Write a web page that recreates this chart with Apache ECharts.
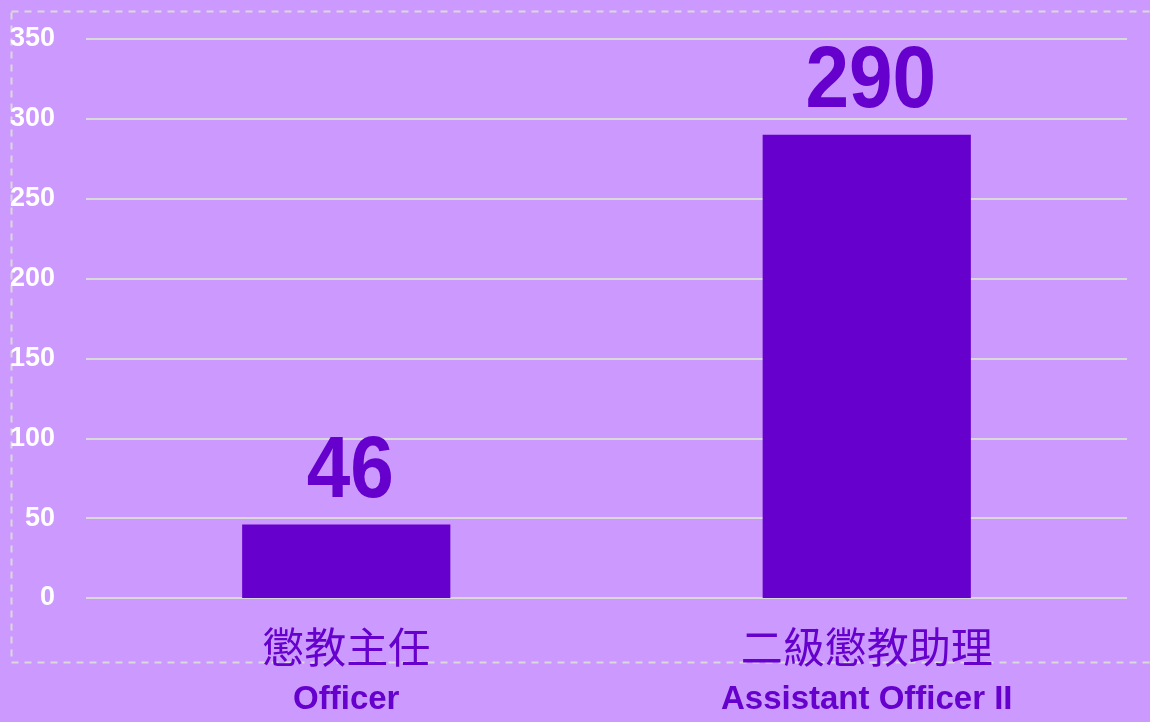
<!DOCTYPE html>
<html>
<head>
<meta charset="utf-8">
<script src="https://cdn.jsdelivr.net/npm/echarts@6/dist/echarts.min.js"></script>
<style>
  html, body { margin: 0; padding: 0; background: #cc99ff; }
  #chart { width: 1150px; height: 722px; }
</style>
</head>
<body>
<div id="chart"></div>
<script>
// categories: chinese title + english subtitle
var categoriesZh = ['懲教主任', '二級懲教助理'];
var categoriesEn = ['Officer', 'Assistant Officer II'];
var counts = [46, 290];
var yTicks = { min: 0, max: 350, interval: 50 };

var purple = '#6600cc';
var sans = '"Liberation Sans", Arial, sans-serif';

var myChart = echarts.init(document.getElementById('chart'));

// value labels drawn a bit condensed, like the original narrow font
function renderValueLabel(params, api) {
    var pt = api.coord([api.value(0), api.value(1)]);
    return {
        type: 'text',
        x: pt[0] + 4,
        y: pt[1] - 8,
        scaleX: 0.9,
        style: {
            text: String(api.value(1)),
            fill: purple,
            fontSize: 87,
            fontWeight: 'bold',
            fontFamily: sans,
            align: 'center',
            verticalAlign: 'bottom'
        }
    };
}

var option = {
    backgroundColor: '#cc99ff',
    animation: false,
    graphic: [
        {
            type: 'rect',
            left: 9,
            top: 9,
            shape: { width: 1160, height: 651 },
            style: {
                fill: 'none',
                stroke: '#d9d9d9',
                lineWidth: 2,
                lineDash: [7, 6]
            },
            z: -1
        }
    ],
    grid: {
        left: 86,
        right: 23,
        top: 39,
        bottom: 124,
        containLabel: false
    },
    xAxis: {
        type: 'category',
        data: categoriesZh,
        axisLine: { show: false },
        axisTick: { show: false },
        axisLabel: {
            margin: 22,
            interval: 0,
            formatter: function (val, idx) {
                return '{cn|' + val + '}\n{en|' + categoriesEn[idx] + '}';
            },
            rich: {
                cn: {
                    fontSize: 42,
                    lineHeight: 54,
                    color: purple,
                    fontFamily: '"Noto Sans CJK TC", sans-serif'
                },
                en: {
                    fontSize: 33,
                    lineHeight: 52,
                    fontWeight: 'bold',
                    color: purple,
                    fontFamily: sans
                }
            }
        }
    },
    yAxis: {
        type: 'value',
        min: yTicks.min,
        max: yTicks.max,
        interval: yTicks.interval,
        axisLine: { show: false },
        axisTick: { show: false },
        axisLabel: {
            margin: 31,
            color: '#ffffff',
            fontSize: 27,
            fontWeight: 'bold',
            fontFamily: sans
        },
        splitLine: {
            lineStyle: { color: '#d9d9d9', width: 2 }
        }
    },
    series: [
        {
            type: 'bar',
            data: counts,
            barWidth: '40%',
            itemStyle: { color: purple }
        },
        {
            type: 'custom',
            renderItem: renderValueLabel,
            data: counts.map(function (v, i) { return [i, v]; }),
            clip: false,
            z: 5
        }
    ]
};
myChart.setOption(option);
</script>
</body>
</html>
